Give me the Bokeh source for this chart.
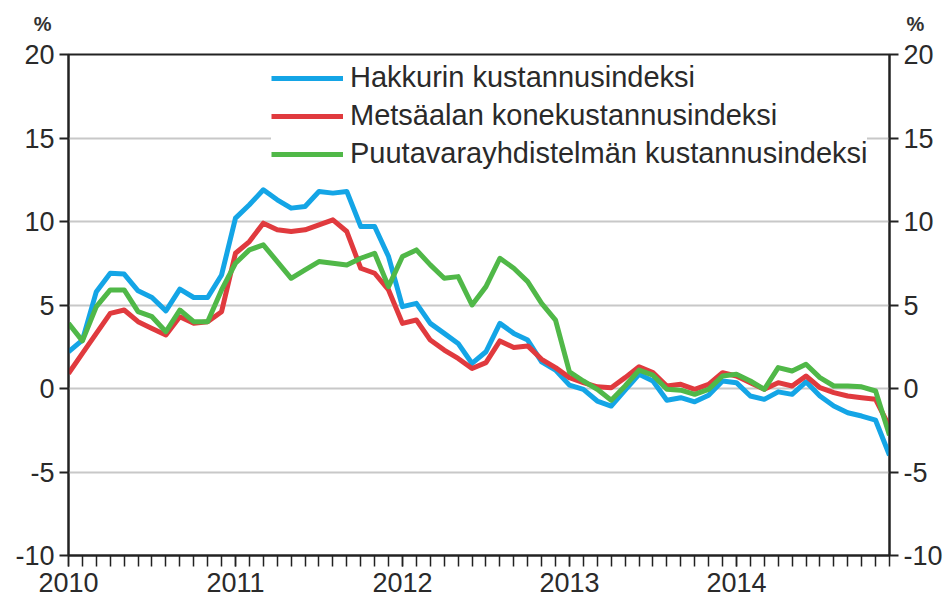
from bokeh.plotting import figure
from bokeh.layouts import column
from bokeh.models import (Range1d, LinearAxis, FixedTicker, Legend, LegendItem)
from bokeh.embed import file_html
from bokeh.resources import INLINE

# ---- data (annual change %, monthly Jan 2010 .. Dec 2014) ----
years = ["2010", "2011", "2012", "2013", "2014"]
months_per_year = 12

hakkuri = [2.2, 2.9, 5.8, 6.9, 6.85, 5.85, 5.45, 4.65, 5.95, 5.45, 5.45, 6.8,
           10.2, 11.0, 11.9, 11.3, 10.8, 10.9, 11.8, 11.7, 11.8, 9.7, 9.7, 7.9,
           4.9, 5.1, 3.9, 3.3, 2.7, 1.5, 2.2, 3.9, 3.3, 2.9, 1.6, 1.1,
           0.2, -0.05, -0.75, -1.05, -0.1, 0.85, 0.45, -0.7, -0.55, -0.8, -0.4, 0.45,
           0.35, -0.45, -0.65, -0.2, -0.35, 0.4, -0.45, -1.05, -1.45, -1.65, -1.9, -4.0]

metsaala = [0.9, 2.1, 3.3, 4.5, 4.7, 4.0, 3.6, 3.2, 4.3, 3.9, 4.0, 4.6,
            8.1, 8.8, 9.9, 9.5, 9.4, 9.5, 9.8, 10.1, 9.4, 7.2, 6.9, 5.9,
            3.9, 4.1, 2.9, 2.3, 1.8, 1.2, 1.55, 2.85, 2.45, 2.55, 1.75, 1.25,
            0.65, 0.35, 0.1, 0.05, 0.65, 1.3, 0.95, 0.15, 0.25, -0.05, 0.25, 0.95,
            0.75, 0.35, -0.05, 0.35, 0.15, 0.75, 0.05, -0.25, -0.45, -0.55, -0.65, -2.3]

puutavara = [3.9, 2.85, 4.9, 5.9, 5.9, 4.6, 4.3, 3.4, 4.7, 4.0, 4.0, 5.9,
             7.5, 8.3, 8.6, 7.6, 6.6, 7.1, 7.6, 7.5, 7.4, 7.8, 8.1, 6.1,
             7.9, 8.3, 7.4, 6.6, 6.7, 5.0, 6.1, 7.8, 7.2, 6.4, 5.1, 4.1,
             1.0, 0.45, -0.05, -0.7, 0.15, 1.1, 0.8, -0.05, -0.1, -0.35, -0.05, 0.75,
             0.85, 0.45, -0.05, 1.25, 1.05, 1.45, 0.65, 0.15, 0.15, 0.1, -0.15, -2.8]

series_names = ["Hakkurin kustannusindeksi",
                "Metsäalan konekustannusindeksi",
                "Puutavarayhdistelmän kustannusindeksi"]
series_colors = ["#14a5e6", "#e03a3e", "#50b848"]
y_ticks = [-10, -5, 0, 5, 10, 15, 20]
y_tick_labels = ["-10", "-5", "0", "5", "10", "15", "20"]
unit_label = "%"

x = list(range(len(hakkuri)))
n = len(x)

FONT = "Liberation Sans"
TXT = "#2a2a2a"
FS = "27px"
W = 948
TOP_H = 34

# ---- header strip: "%" unit labels above both y axes (as axis labels) ----
head = figure(width=W, height=TOP_H, output_backend="svg", toolbar_location=None,
              x_range=Range1d(0, 1), y_range=Range1d(0, 1),
              x_axis_location=None, y_axis_location=None,
              min_border_left=68, min_border_right=59, min_border_top=12, min_border_bottom=0)
head.grid.visible = False
head.outline_line_color = None
for side in ["left", "right"]:
    ax = LinearAxis(ticker=FixedTicker(ticks=[]), axis_label=unit_label,
                    axis_label_orientation="horizontal",
                    axis_label_text_font=FONT, axis_label_text_font_size="20px",
                    axis_label_text_font_style="bold", axis_label_text_color="#333333",
                    axis_label_standoff=17, axis_line_color=None,
                    major_tick_line_color=None, minor_tick_line_color=None,
                    major_label_text_font_size="0px")
    head.add_layout(ax, side)

# ---- main chart ----
p = figure(width=W, height=607 - TOP_H, output_backend="svg", toolbar_location=None,
           x_range=Range1d(0, n - 1), y_range=Range1d(-10, 20),
           min_border_left=68, min_border_right=59, min_border_top=54 - TOP_H,
           min_border_bottom=52)
p.outline_line_color = "#222222"
p.outline_line_width = 2
p.background_fill_color = "white"
p.border_fill_color = "white"

# grid
p.xgrid.visible = False
p.ygrid.ticker = FixedTicker(ticks=y_ticks)
p.ygrid.grid_line_color = "#c8c8c8"
p.ygrid.grid_line_width = 2

# x axis: a tick every month, year labels at January
xa = p.xaxis[0]
xa.ticker = FixedTicker(ticks=[i * months_per_year for i in range(len(years))],
                        minor_ticks=x)
xa.major_label_overrides = {i * months_per_year: y for i, y in enumerate(years)}
xa.major_tick_out = 11
xa.major_tick_in = 0
xa.minor_tick_out = 11
xa.minor_tick_in = 0
xa.minor_tick_line_color = "#222222"
xa.minor_tick_line_width = 1.5
xa.major_tick_line_width = 1.5
xa.major_label_standoff = 6

# y axes left and right
ya = p.yaxis[0]
yr = LinearAxis()
p.add_layout(yr, "right")
for ax in [ya, yr]:
    ax.ticker = FixedTicker(ticks=y_ticks)
    ax.major_label_overrides = dict(zip(y_ticks, y_tick_labels))
    ax.major_tick_out = 9
    ax.major_tick_in = 0
    ax.minor_tick_out = 0
    ax.minor_tick_in = 0
    ax.major_tick_line_width = 2
    ax.major_label_standoff = 5

for ax in [xa, ya, yr]:
    ax.axis_line_color = "#222222"
    ax.axis_line_width = 2
    ax.major_tick_line_color = "#222222"
    ax.major_label_text_font = FONT
    ax.major_label_text_font_size = FS
    ax.major_label_text_color = TXT

# lines
renderers = []
for vals, col in zip([hakkuri, metsaala, puutavara], series_colors):
    r = p.line(x, vals, line_color=col, line_width=5, line_join="round")
    renderers.append(r)

legend = Legend(items=[LegendItem(label=nm, renderers=[r]) for nm, r in zip(series_names, renderers)],
                location=(203, 385), background_fill_color="white", background_fill_alpha=1,
                border_line_color=None, glyph_width=72, glyph_height=20, label_height=20,
                label_standoff=7, spacing=5, padding=5, margin=0,
                label_text_font=FONT, label_text_font_size="29px", label_text_color=TXT)
p.add_layout(legend)

layout = column(head, p, spacing=0)
open("out.html", "w").write(file_html(layout, INLINE))
